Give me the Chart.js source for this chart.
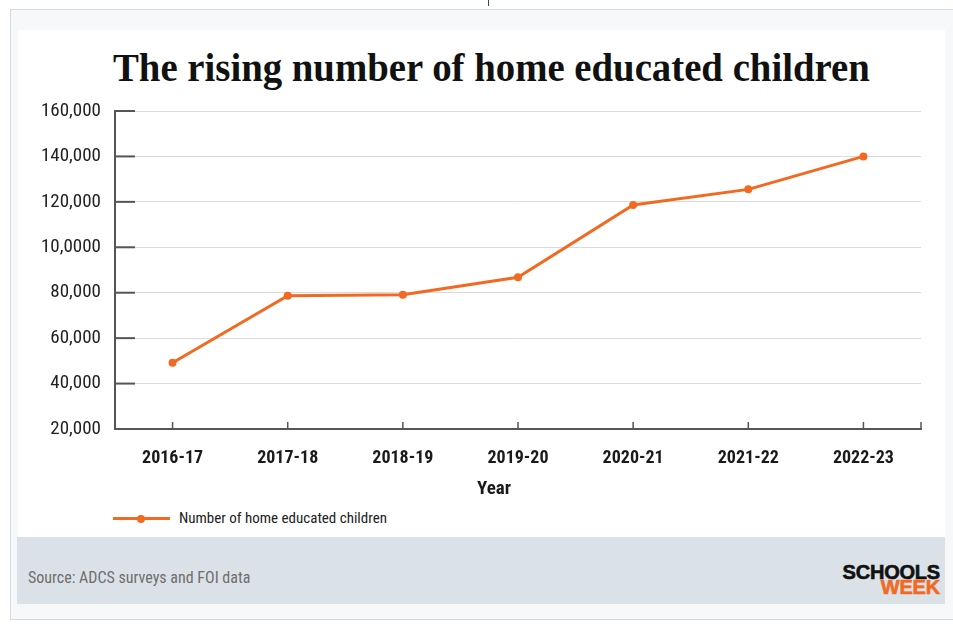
<!DOCTYPE html>
<html>
<head>
    <title>The rising number of home educated children</title>
    <script src="https://cdn.jsdelivr.net/npm/chart.js"></script>
    <style>
        body { margin: 0; width: 953px; height: 624px; background: #fff; position: relative; overflow: hidden; }
        .frame { position: absolute; left: 10px; top: 9px; width: 960px; height: 609px; background: #f7f8fa; border: 1px solid #d3dae2; }
        .panel { position: absolute; left: 18px; top: 30px; width: 927px; height: 507px; background: #fff; }
        .footer { position: absolute; left: 17px; top: 537px; width: 928px; height: 67px; background: #dbe2e7; }
        .nick { position: absolute; left: 488px; top: 0; width: 1px; height: 6px; background: #444; }
        .narrow { font-family: 'Liberation Sans Narrow', 'Roboto Condensed', 'Liberation Sans', sans-serif; }
        #title { position: absolute; left: 0; top: 43px; width: 983px; text-align: center; font: bold 40px 'Liberation Serif', serif; line-height: 50px; color: #111; white-space: nowrap; }
        #title span { display: inline-block; transform-origin: center; }
        #xtitle { position: absolute; left: 444px; width: 100px; top: 476px; text-align: center; font-weight: bold; font-size: 19px; color: #1a1a1a; }
        .legend { position: absolute; left: 113px; top: 506px; height: 24px; }
        .legend .ln { position: absolute; left: 0; top: 11px; width: 57px; height: 3px; background: #f26a21; }
        .legend .dot { position: absolute; left: 24px; top: 8.5px; width: 8px; height: 8px; border-radius: 50%; background: #f26a21; }
        .legend .tx { position: absolute; left: 66px; top: 3px; font-size: 15px; color: #222; white-space: nowrap; }
        #source { position: absolute; left: 28px; top: 568px; font-size: 16px; color: #6e6e6e; white-space: nowrap; }
        .logo { position: absolute; right: 13px; top: 565px; text-align: right; font: bold 20px 'Liberation Sans', Arial, sans-serif; line-height: 15px; letter-spacing: -0.2px; }
        .logo .a { color: #111; -webkit-text-stroke: 0.6px #111; }
        .logo .b { color: #f26a21; -webkit-text-stroke: 0.6px #f26a21; }
        canvas { position: absolute; left: 0; top: 0; }
    </style>
</head>
<body>
    <div class="nick"></div>
    <div class="frame"></div>
    <div class="panel"></div>
    <div class="footer"></div>
    <div id="title"><span>The rising number of home educated children</span></div>
    <canvas id="lineChart" width="953" height="500"></canvas>
    <div id="xtitle" class="narrow">Year</div>
    <div class="legend narrow"><div class="ln"></div><div class="dot"></div><div class="tx">Number of home educated children</div></div>
    <div id="source" class="narrow">Source: ADCS surveys and FOI data</div>
    <div class="logo"><div class="a">SCHOOLS</div><div class="b">WEEK</div></div>
    <script>
        const years = ['2016-17', '2017-18', '2018-19', '2019-20', '2020-21', '2021-22', '2022-23'];
        const children = [49200, 78700, 79100, 86800, 118600, 125500, 140000];
        const yTickValues = [20000, 40000, 60000, 80000, 100000, 120000, 140000, 160000];
        const yTickLabels = ['20,000', '40,000', '60,000', '80,000', '10,0000', '120,000', '140,000', '160,000'];

        const orange = '#f26a21';
        const axisGrey = '#555555';
        const narrow = "'Liberation Sans Narrow', 'Roboto Condensed', 'Liberation Sans', sans-serif";

        // fit title to the width it has in the original
        const t = document.querySelector('#title span');
        t.style.transform = 'scaleX(' + (757 / t.offsetWidth) + ')';

        // short tick marks drawn inside the plot, as in the original
        const innerTicks = {
            id: 'innerTicks',
            beforeDatasetsDraw(chart) {
                const { ctx, chartArea, scales: { x, y } } = chart;
                ctx.save();
                ctx.strokeStyle = axisGrey;
                ctx.lineWidth = 2;
                y.ticks.forEach(tk => {
                    const py = y.getPixelForValue(tk.value);
                    ctx.beginPath();
                    ctx.moveTo(chartArea.left, py);
                    ctx.lineTo(chartArea.left + 20, py);
                    ctx.stroke();
                });
                ctx.lineWidth = 1.5;
                years.forEach((_, i) => {
                    const px = x.getPixelForValue(i);
                    ctx.beginPath();
                    ctx.moveTo(px, chartArea.bottom);
                    ctx.lineTo(px, chartArea.bottom - 7);
                    ctx.stroke();
                });
                ctx.beginPath();
                ctx.moveTo(chartArea.right, chartArea.bottom);
                ctx.lineTo(chartArea.right, chartArea.bottom - 7);
                ctx.stroke();
                ctx.restore();
            }
        };

        const ctx = document.getElementById('lineChart').getContext('2d');
        const lineChart = new Chart(ctx, {
            type: 'line',
            data: {
                labels: years,
                datasets: [{
                    label: 'Number of home educated children',
                    data: children,
                    borderColor: orange,
                    backgroundColor: orange,
                    pointBackgroundColor: orange,
                    borderWidth: 3,
                    pointRadius: 4,
                    pointBorderWidth: 0,
                    tension: 0,
                    fill: false
                }]
            },
            options: {
                responsive: false,
                animation: false,
                layout: { padding: { top: 111, left: 0, right: 32, bottom: 0 } },
                plugins: {
                    legend: { display: false },
                    title: { display: false },
                    tooltip: { enabled: false }
                },
                scales: {
                    x: {
                        offset: true,
                        afterFit: s => { s.height = 71; },
                        grid: { display: false },
                        border: { display: true, color: axisGrey, width: 2 },
                        ticks: {
                            color: '#1a1a1a',
                            padding: 11,
                            autoSkip: false,
                            maxRotation: 0,
                            font: { family: narrow, size: 18, weight: 'bold' }
                        }
                    },
                    y: {
                        min: 20000,
                        max: 160000,
                        afterFit: s => { s.width = 115; },
                        afterBuildTicks: s => { s.ticks = yTickValues.map(v => ({ value: v })); },
                        grid: { color: '#dadada', lineWidth: 1, drawTicks: false },
                        border: { display: true, color: axisGrey, width: 2 },
                        ticks: {
                            color: '#222',
                            padding: 14,
                            font: { family: narrow, size: 19 },
                            callback: v => yTickLabels[yTickValues.indexOf(v)]
                        }
                    }
                }
            },
            plugins: [innerTicks]
        });
    </script>
</body>
</html>
